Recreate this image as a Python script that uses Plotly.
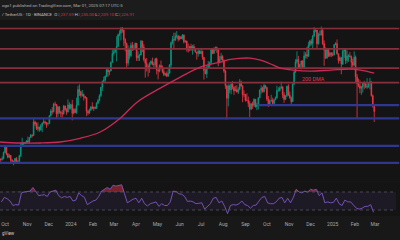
import math
import pandas as pd
import plotly.graph_objects as go

# ---------------- data (ETH / TetherUS, 2-day candles) -------------
candle_start = "2023-09-25"
first_open = 1592
closes = [1587,1598,1670,1733,1650,1612,1633,1580,1568,1552,
          1600,1565,1567,1630,1760,1786,1780,1795,1815,1800,
          1855,1890,1885,2077,2045,1980,2000,1962,2020,2060,
          2080,2065,2050,2052,2170,2245,2233,2360,2355,2200,
          2315,2225,2215,2200,2325,2265,2230,2345,2290,2350,
          2210,2270,2220,2340,2620,2575,2510,2525,2490,2470,
          2240,2215,2265,2315,2285,2305,2290,2375,2420,2505,
          2660,2775,2800,2880,3015,2970,2990,3180,3385,3430,
          3490,3560,3870,3915,4065,4005,3740,3640,3160,3500,
          3335,3590,3495,3510,3645,3280,3330,3350,3700,3545,
          3245,3160,3085,3065,3160,3200,3140,3130,3260,3010,
          2990,3110,3065,2975,2910,2930,2880,2945,3120,3660,
          3740,3730,3830,3845,3750,3815,3770,3865,3680,3705,
          3500,3470,3565,3510,3560,3520,3420,3390,3445,3385,
          3435,3295,3000,2930,3065,3100,3175,3490,3390,3500,
          3535,3480,3170,3250,3320,3230,2990,2690,2460,2685,
          2610,2720,2660,2590,2615,2570,2620,2765,2685,2525,
          2525,2425,2420,2370,2275,2360,2340,2440,2315,2340,
          2465,2610,2645,2580,2695,2660,2445,2350,2415,2420,
          2370,2435,2470,2600,2605,2645,2665,2520,2440,2505,
          2680,2515,2465,2400,2720,2960,3190,3245,3060,3130,
          3210,3070,3330,3360,3320,3590,3705,3640,3830,3990,
          4005,3630,3880,3870,3990,3630,3470,3280,3490,3330,
          3400,3355,3350,3605,3635,3380,3220,3285,3140,3450,
          3470,3220,3330,3330,3310,3180,3115,3300,2870,2730,
          2690,2640,2660,2745,2725,2660,2675,2740,2765,2505,
          2330,2237]
highs = [1600,1625,1680,1745,1750,1660,1655,1640,1590,1575,
         1605,1615,1580,1640,1790,1855,1800,1800,1820,1870,
         1865,1905,1900,2135,2095,2070,2070,2010,2045,2070,
         2135,2095,2075,2070,2180,2275,2310,2380,2400,2355,
         2330,2320,2245,2260,2345,2335,2290,2440,2390,2365,
         2430,2290,2290,2470,2690,2717,2590,2610,2545,2500,
         2475,2260,2285,2320,2390,2320,2320,2390,2450,2530,
         2665,2790,2870,2890,3030,3030,3000,3200,3485,3520,
         3500,3830,3900,3995,4090,4093,4010,3780,3660,3590,
         3530,3660,3680,3610,3660,3650,3440,3370,3730,3710,
         3620,3270,3280,3130,3180,3230,3290,3190,3280,3290,
         3020,3130,3220,3110,3050,2950,2980,3040,3140,3690,
         3840,3930,3930,3975,3850,3850,3840,3890,3880,3720,
         3710,3640,3575,3630,3600,3620,3520,3430,3485,3470,
         3525,3460,3300,3070,3100,3210,3190,3500,3520,3540,
         3560,3560,3480,3330,3400,3345,3240,3010,2700,2720,
         2710,2740,2780,2680,2690,2700,2660,2820,2790,2700,
         2600,2530,2550,2490,2410,2380,2400,2460,2440,2380,
         2480,2615,2700,2670,2730,2700,2660,2500,2440,2520,
         2470,2445,2490,2690,2660,2680,2770,2680,2570,2510,
         2690,2720,2580,2490,2740,3000,3250,3440,3330,3150,
         3220,3230,3440,3420,3550,3680,3730,3760,3870,4090,
         4020,4010,3930,3990,4107,4060,3720,3540,3510,3500,
         3430,3420,3420,3620,3670,3745,3385,3320,3300,3470,
         3520,3490,3460,3370,3420,3340,3260,3440,3340,2925,
         2830,2795,2690,2760,2785,2745,2840,2760,2845,2780,
         2525,2360]
lows = [1560,1575,1590,1660,1635,1600,1605,1555,1545,1522,
        1545,1555,1545,1560,1615,1755,1760,1770,1780,1780,
        1780,1850,1860,1880,2020,1960,1940,1935,1950,1930,
        2050,2035,1990,2020,2050,2160,2190,2220,2325,2120,
        2150,2200,2150,2140,2190,2250,2185,2220,2270,2265,
        2100,2190,2210,2200,2340,2500,2470,2490,2420,2450,
        2165,2180,2200,2245,2270,2245,2275,2275,2360,2410,
        2480,2590,2760,2760,2860,2870,2900,2985,3170,3340,
        3400,3200,3550,3830,3720,3930,3570,3440,3060,3100,
        3250,3300,3450,3460,3480,3210,3210,3210,3350,3420,
        3200,2850,2980,2870,2950,3120,3110,3070,3070,2915,
        2815,2960,3050,2940,2880,2880,2860,2870,2930,3050,
        3610,3520,3700,3770,3690,3720,3750,3740,3640,3660,
        3430,3410,3440,3450,3360,3450,3410,3240,3310,3370,
        3370,3240,2810,2920,2840,3050,3050,3140,3370,3375,
        3450,3400,3090,3160,3225,3215,2950,2630,2111,2320,
        2550,2530,2620,2520,2590,2560,2535,2610,2670,2390,
        2480,2400,2410,2310,2150,2260,2280,2310,2300,2260,
        2270,2460,2540,2560,2560,2630,2410,2310,2340,2400,
        2355,2340,2430,2450,2580,2580,2630,2460,2380,2430,
        2480,2500,2455,2360,2400,2710,2950,3150,3030,3030,
        3020,3050,3060,3270,3260,3310,3560,3585,3500,3820,
        3940,3500,3610,3850,3850,3600,3100,3260,3260,3300,
        3300,3300,3320,3340,3590,3360,3150,3200,2920,3120,
        3280,3140,3160,3190,3290,3020,3060,3100,2750,2120,
        2660,2550,2520,2560,2620,2655,2630,2650,2620,2490,
        2300,2076]

# 200-day moving average, read at intervals
dma_dates = ["2023-09-24","2023-10-22","2023-11-19","2023-12-17","2024-01-14","2024-02-11",
             "2024-03-10","2024-04-03","2024-05-05","2024-06-02","2024-06-30","2024-07-28",
             "2024-08-11","2024-09-08","2024-09-22","2024-10-10","2024-10-20","2024-11-07",
             "2024-12-01","2024-12-29","2025-01-26","2025-02-09","2025-02-28"]
dma_values = [1799,1786,1786,1799,1847,1932,2133,2396,2644,2861,3073,3185,
              3245,3277,3230,3117,3053,3008,2986,3008,3030,3008,2944]

# RSI (14), every 4 days
rsi_start = "2023-09-26"
rsi_values = [48,58,55,50,40,42,41,68,70,71,72,80,70,62,63,64,60,70,72,74,
              62,57,60,58,60,50,52,68,62,58,42,46,50,52,60,72,76,80,76,85,
              83,84,86,66,46,50,54,56,46,56,44,39,44,46,48,38,44,40,40,48,
              72,71,66,65,60,49,50,48,44,45,46,32,38,44,56,58,46,50,38,22,
              40,42,41,44,50,42,40,34,40,41,50,58,60,46,44,44,48,56,58,46,
              56,46,58,76,70,68,72,70,76,74,76,62,68,46,48,46,47,56,44,40,
              52,48,48,42,34,32,34,38,38,42,25]

# horizontal levels
red_levels = [4050, 3500, 3050, 2750]
blue_levels = [2130, 1750, 1550]
short_blue_level = 2340
short_blue_start = "2024-09-19"

level_start = "2023-09-18"
level_end = "2025-04-04"

tick_dates = ["2023-10-01","2023-11-01","2023-12-01","2024-01-01","2024-02-01","2024-03-01",
              "2024-04-01","2024-05-01","2024-06-01","2024-07-01","2024-08-01","2024-09-01",
              "2024-10-01","2024-11-01","2024-12-01","2025-01-01","2025-02-01","2025-03-01",
              "2025-04-01"]
tick_labels = ["Oct","Nov","Dec","2024","Feb","Mar","Apr","May","Jun","Jul","Aug","Sep",
               "Oct","Nov","Dec","2025","Feb","Mar","Apr"]

header1 = "ogo1 published on TradingView.com, Mar 01, 2025 07:17 UTC-5"
ohlc_last = ["2,237.59", "2,255.00", "2,209.10", "2,226.91"]

# ---------------- figure ----------------
dates = pd.date_range(candle_start, periods=len(closes), freq="2D")
opens = [first_open] + closes[:-1]
highs = [max(h, o, c) for h, o, c in zip(highs, opens, closes)]
lows = [min(l, o, c) for l, o, c in zip(lows, opens, closes)]
rsi_dates = pd.date_range(rsi_start, periods=len(rsi_values), freq="4D")

UP = "#089981"
DN = "#f23645"
RED_LINE = "#86303e"
BLUE_LINE = "#2f378e"
FONT = "Roboto"

fig = go.Figure()

for p in red_levels:
    fig.add_trace(go.Scatter(x=[level_start, level_end], y=[p, p], mode="lines",
                             line=dict(color=RED_LINE, width=1.6), hoverinfo="skip",
                             showlegend=False, xaxis="x", yaxis="y"))
for p in blue_levels:
    fig.add_trace(go.Scatter(x=[level_start, level_end], y=[p, p], mode="lines",
                             line=dict(color=BLUE_LINE, width=2.2), hoverinfo="skip",
                             showlegend=False, xaxis="x", yaxis="y"))
fig.add_trace(go.Scatter(x=[short_blue_start, level_end], y=[short_blue_level]*2, mode="lines",
                         line=dict(color=BLUE_LINE, width=2.2), hoverinfo="skip",
                         showlegend=False, xaxis="x", yaxis="y"))

fig.add_trace(go.Scatter(x=dma_dates, y=dma_values, mode="lines",
                         line=dict(color="#c92a55", width=1.3, shape="spline", smoothing=1.0),
                         hoverinfo="skip", showlegend=False, xaxis="x", yaxis="y"))

fig.add_trace(go.Candlestick(
    x=dates, open=opens, high=highs, low=lows, close=closes,
    increasing=dict(line=dict(color=UP, width=0.8), fillcolor=UP),
    decreasing=dict(line=dict(color=DN, width=0.8), fillcolor=DN),
    whiskerwidth=0, showlegend=False, hoverinfo="skip", xaxis="x", yaxis="y"))

# RSI panel
fig.add_trace(go.Scatter(x=rsi_dates, y=[70]*len(rsi_values), mode="lines",
                         line=dict(width=0, color="rgba(0,0,0,0)"), hoverinfo="skip",
                         showlegend=False, xaxis="x", yaxis="y2"))
fig.add_trace(go.Scatter(x=rsi_dates, y=[max(v, 70) for v in rsi_values], mode="lines",
                         line=dict(width=0, color="rgba(0,0,0,0)"), fill="tonexty",
                         fillcolor="rgba(242,54,69,0.45)", hoverinfo="skip",
                         showlegend=False, xaxis="x", yaxis="y2"))
fig.add_trace(go.Scatter(x=rsi_dates, y=rsi_values, mode="lines",
                         line=dict(color="#7e57c2", width=0.9), hoverinfo="skip",
                         showlegend=False, xaxis="x", yaxis="y2"))

shapes = [
    dict(type="rect", xref="paper", yref="y2", x0=0, x1=0.99, y0=30, y1=70,
         fillcolor="rgba(126,87,194,0.10)", line=dict(width=0), layer="below"),
    dict(type="line", xref="paper", yref="y2", x0=0, x1=0.99, y0=70, y1=70,
         line=dict(color="#55555f", width=0.8, dash="dot")),
    dict(type="line", xref="paper", yref="y2", x0=0, x1=0.99, y0=30, y1=30,
         line=dict(color="#55555f", width=0.8, dash="dot")),
    dict(type="rect", xref="paper", yref="paper", x0=0, x1=1, y0=1.0, y1=1.11,
         fillcolor="#1c1c1c", line=dict(width=0), layer="below"),
]

def red(s):
    return f"<span style='color:#c8384b'>{s}</span>"

header2 = ("/ TetherUS · 1D · BINANCE  O" + red(ohlc_last[0]) + " H" + red(ohlc_last[1]) +
           " L" + red(ohlc_last[2]) + " C" + red(ohlc_last[3]))

annotations = [
    dict(text=header1, xref="paper", yref="paper", x=0, y=(216-5)/196, xanchor="left",
         yanchor="middle", showarrow=False, font=dict(family=FONT, size=4.3, color="#b4b4b4")),
    dict(text=header2, xref="paper", yref="paper", x=0, y=(216-14)/196, xanchor="left",
         yanchor="middle", showarrow=False, font=dict(family=FONT, size=4.3, color="#c4c4c4")),
    dict(text="gView", xref="paper", yref="paper", x=0, y=(216-233)/196, xanchor="left",
         yanchor="middle", showarrow=False, font=dict(family=FONT, size=4.5, color="#d0d0d0")),
    dict(text="200 DMA", xref="x", yref="y", x="2024-12-05", y=math.log10(2819),
         xanchor="center", yanchor="middle", showarrow=False,
         font=dict(family=FONT, size=5.4, color="#e0364f")),
]

fig.update_layout(
    width=400, height=240,
    margin=dict(l=0, r=0, t=20, b=24),
    paper_bgcolor="#181818", plot_bgcolor="#141414",
    showlegend=False,
    shapes=shapes, annotations=annotations,
    xaxis=dict(range=["2023-09-24", "2025-04-05"], anchor="y2", showgrid=False,
               zeroline=False, showline=False, rangeslider=dict(visible=False),
               tickmode="array", tickvals=tick_dates, ticktext=tick_labels,
               ticks="", ticklabelstandoff=4,
               tickfont=dict(family=FONT, size=5, color="#a8a8a8")),
    yaxis=dict(type="log", range=[3.1339, 3.6338], domain=[0.1786, 1.0],
               showgrid=False, zeroline=False, showticklabels=False, showline=False),
    yaxis2=dict(range=[16.7, 92.2], domain=[0.0, 0.1735], showgrid=False,
                zeroline=False, showticklabels=False, showline=False),
)

fig.write_html("out.html")
